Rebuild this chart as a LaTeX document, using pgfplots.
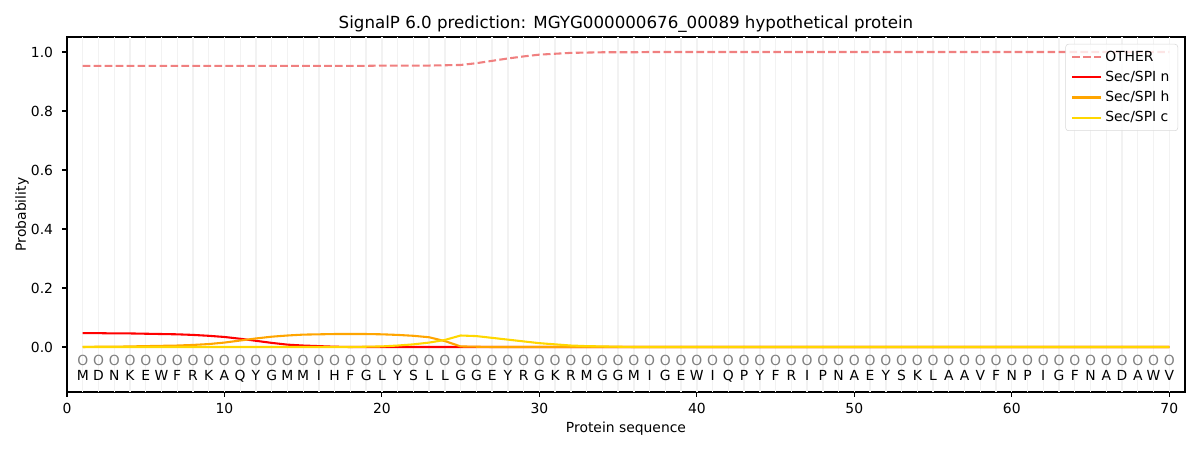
\documentclass[border=0pt]{standalone}
\usepackage{fontspec}
\setmainfont{DejaVu Sans}
\usepackage{pgfplots}
\usepackage{pgfplotstable}
\pgfplotsset{compat=1.18}
\definecolor{cother}{HTML}{F08080}
\definecolor{cn}{HTML}{FF0000}
\definecolor{ch}{HTML}{FFA500}
\definecolor{cc}{HTML}{FFD700}
\pgfplotstableread{
x other n h c
1 0.953 0.047 0.000 0.000
2 0.953 0.047 0.001 0.000
3 0.953 0.046 0.001 0.000
4 0.953 0.046 0.002 0.000
5 0.953 0.045 0.003 0.000
6 0.953 0.044 0.004 0.000
7 0.953 0.043 0.005 0.000
8 0.953 0.041 0.007 0.000
9 0.953 0.038 0.010 0.000
10 0.953 0.034 0.015 0.000
11 0.953 0.028 0.022 0.000
12 0.953 0.021 0.029 0.000
13 0.953 0.014 0.035 0.000
14 0.953 0.008 0.039 0.000
15 0.953 0.005 0.042 0.000
16 0.953 0.003 0.043 0.000
17 0.953 0.001 0.044 0.000
18 0.953 0.000 0.044 0.000
19 0.953 0.000 0.044 0.001
20 0.954 0.000 0.043 0.002
21 0.954 0.000 0.041 0.005
22 0.954 0.000 0.038 0.009
23 0.954 0.000 0.033 0.015
24 0.955 0.000 0.020 0.024
25 0.956 0.000 0.002 0.039
26 0.962 0.000 0.001 0.037
27 0.970 0.000 0.000 0.031
28 0.978 0.000 0.000 0.025
29 0.985 0.000 0.000 0.019
30 0.991 0.000 0.000 0.013
31 0.994 0.000 0.000 0.009
32 0.997 0.000 0.000 0.005
33 0.998 0.000 0.000 0.003
34 0.999 0.000 0.000 0.002
35 0.999 0.000 0.000 0.001
36 0.999 0.000 0.000 0.000
37 1.000 0.000 0.000 0.000
70 1.000 0.000 0.000 0.000
}\probs
\pgfplotstableread{
x aa
1 M
2 D
3 N
4 K
5 E
6 W
7 F
8 R
9 K
10 A
11 Q
12 Y
13 G
14 M
15 M
16 I
17 H
18 F
19 G
20 L
21 Y
22 S
23 L
24 L
25 G
26 G
27 E
28 Y
29 R
30 G
31 K
32 R
33 M
34 G
35 G
36 M
37 I
38 G
39 E
40 W
41 I
42 Q
43 P
44 Y
45 F
46 R
47 I
48 P
49 N
50 A
51 E
52 Y
53 S
54 K
55 L
56 A
57 A
58 V
59 F
60 N
61 P
62 I
63 G
64 F
65 N
66 A
67 D
68 A
69 W
70 V
}\seq
\begin{document}
\begin{tikzpicture}
\path[use as bounding box] (0,0) rectangle (864bp,324bp);
\begin{axis}[
  at={(48.24bp,41.76bp)}, anchor=south west,
  scale only axis, width=804.96bp, height=255.6bp,
  xmin=0, xmax=71, ymin=-0.1525, ymax=1.0508,
  font=\fontsize{10bp}{12bp}\selectfont,
  axis line style={line width=0.8bp},
  xtick={0,10,...,70}, ytick={0,0.2,...,1.0},
  tick align=outside, major tick length=3.5bp,
  tick style={line width=0.8bp, black},
  xtick pos=bottom, ytick pos=left,
  /pgf/number format/assume math mode=true,
  yticklabel style={/pgf/number format/fixed, /pgf/number format/fixed zerofill, /pgf/number format/precision=1, xshift=-3bp},
  xticklabel style={yshift=-1bp},
  extra x ticks={1,...,70}, extra x tick labels={},
  extra x tick style={grid=major, major tick length=0pt, tick style={draw=none}, major grid style={color=black!5, line width=1bp}},
  title={SignalP 6.0 prediction: MGYG000000676\_00089 hypothetical protein},
  title style={at={(axis description cs:0.5,1.0225)}, anchor=base, yshift=-5.8bp, font=\fontsize{12bp}{14bp}\selectfont},
  xlabel={Protein sequence},
  xlabel style={at={(axis description cs:0.5,-0.0986)}, anchor=center, yshift=-1bp},
  ylabel={Probability},
  ylabel style={at={(axis description cs:-0.0402,0.5)}, anchor=center},
  legend style={at={(1,1)}, anchor=north east, xshift=-5bp, yshift=-5bp,
    draw=black!15, rounded corners=2bp, fill=white, fill opacity=0.8, text opacity=1,
    font=\fontsize{10bp}{12bp}\selectfont,
    row sep=1.5bp, inner xsep=4bp, inner ysep=3bp},
  legend cell align=left,
  legend image code/.code={\draw[#1] (0bp,0bp) -- (21bp,0bp);},
]
\addplot[cother, line width=1.5bp, dash pattern=on 5.5bp off 2.4bp] table[x=x,y=other] {\probs};
\addlegendentry{OTHER}
\addplot[cn, line width=1.5bp] table[x=x,y=n] {\probs};
\addlegendentry{Sec/SPI n}
\addplot[ch, line width=1.5bp] table[x=x,y=h] {\probs};
\addlegendentry{Sec/SPI h}
\addplot[cc, line width=1.5bp] table[x=x,y=c] {\probs};
\addlegendentry{Sec/SPI c}
\addplot[draw=none, mark=none, forget plot, nodes near coords={O}, every node near coord/.style={anchor=center, text=black!50, inner sep=0pt}] table[x=x, y expr=-0.047] {\seq};
\addplot[draw=none, mark=none, forget plot, point meta=explicit symbolic, nodes near coords, every node near coord/.style={anchor=center, text=black, inner sep=0pt}] table[x=x, y expr=-0.098, meta=aa] {\seq};
\end{axis}
\end{tikzpicture}
\end{document}
